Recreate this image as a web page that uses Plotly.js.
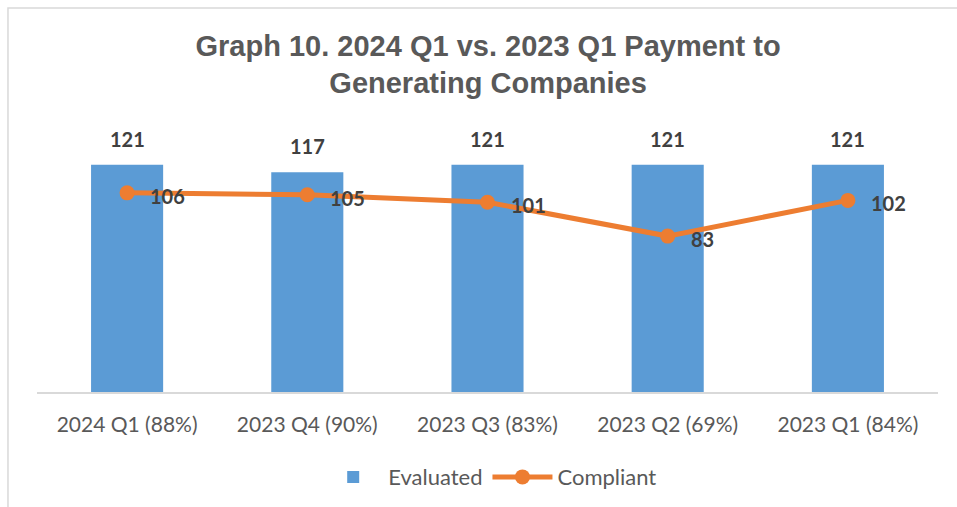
<!DOCTYPE html>
<html><head><meta charset="utf-8">
<script src="https://cdn.plot.ly/plotly-3.0.1.min.js"></script>
<style>html,body{margin:0;padding:0;background:#fff}#chart{width:957px;height:507px}</style>
</head><body><div id="chart"></div>
<script>
const categories = ["2024 Q1 (88%)", "2023 Q4 (90%)", "2023 Q3 (83%)", "2023 Q2 (69%)", "2023 Q1 (84%)"];
const evaluated = [121, 117, 121, 121, 121];
const compliant = [106, 105, 101, 83, 102];

const labelFont = {family: "Lato, sans-serif", size: 20, color: "#404040", weight: "bold"};
const annotations = [];
categories.forEach((c, i) => {
  annotations.push({x: c, y: evaluated[i], xref: "x", yref: "y", text: "<b>" + evaluated[i] + "</b>",
    showarrow: false, yshift: 26, font: labelFont});
  annotations.push({x: c, y: compliant[i], xref: "x", yref: "y", text: "<b>" + compliant[i] + "</b>",
    showarrow: false, xanchor: "left", xshift: 21, yshift: -3, font: labelFont});
});

const data = [
  {type: "bar", name: "Evaluated", x: categories, y: evaluated, marker: {color: "#5B9BD5"}, hoverinfo: "none"},
  {type: "scatter", mode: "lines+markers", name: "Compliant", x: categories, y: compliant,
   line: {color: "#ED7D31", width: 5}, marker: {color: "#ED7D31", size: 15}, hoverinfo: "none"}
];

const layout = {
  width: 957, height: 507,
  margin: {l: 37, r: 19, t: 129, b: 115},
  paper_bgcolor: "#fff", plot_bgcolor: "#fff",
  showlegend: true,
  title: {text: "<b>Graph 10. 2024 Q1 vs. 2023 Q1 Payment to<br>Generating Companies</b>",
    x: 0.51, xanchor: "center", y: 0.89, yanchor: "top",
    font: {family: "Liberation Sans, Arial, sans-serif", size: 29, color: "#595959"}},
  bargap: 0.6,
  xaxis: {type: "category", showgrid: false, showline: true, linecolor: "#d9d9d9", linewidth: 1.5,
    ticks: "", tickfont: {family: "Lato, sans-serif", size: 21, color: "#595959"}, ticklabelstandoff: 13, automargin: false},
  yaxis: {range: [0, 140], visible: false, showgrid: false, zeroline: false},
  legend: {orientation: "h", x: 0.503, xanchor: "center", yref: "container", y: 0.059, yanchor: "middle",
    font: {family: "Lato, sans-serif", size: 22, color: "#595959"}, itemwidth: 60, traceorder: "normal"},
  annotations: annotations,
  shapes: [{type: "rect", xref: "paper", yref: "paper", x0: -0.0322, x1: 1.2, y0: -2, y1: 1.46,
    line: {color: "#d9d9d9", width: 1.5}, fillcolor: "rgba(0,0,0,0)", layer: "below"}]
};
Plotly.newPlot("chart", data, layout, {displayModeBar: false, staticPlot: true});
</script></body></html>
